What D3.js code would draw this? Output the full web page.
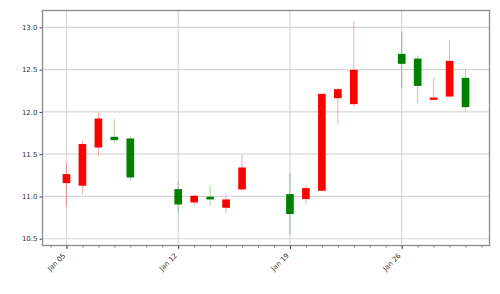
<!DOCTYPE html>
<html>
<head>
<meta charset="utf-8">
<script src="https://cdn.jsdelivr.net/npm/d3@7"></script>
<style>
html,body{margin:0;padding:0;background:#fff;}
svg{display:block;}
</style>
</head>
<body>
<svg id="chart" width="500" height="294"></svg>
<script>
// ---- data ----
const dates = ["2015-01-05","2015-01-06","2015-01-07","2015-01-08","2015-01-09",
  "2015-01-12","2015-01-13","2015-01-14","2015-01-15","2015-01-16",
  "2015-01-19","2015-01-20","2015-01-21","2015-01-22","2015-01-23",
  "2015-01-26","2015-01-27","2015-01-28","2015-01-29","2015-01-30"];
const opens  = [11.158,11.127,11.579,11.706,11.686, 11.087,10.929,10.996,10.866,11.083, 11.028,10.969,11.067,12.163,12.092, 12.687,12.631,12.143,12.182,12.403];
const highs  = [11.390,11.658,11.993,11.915,11.717, 11.177,11.020,11.135,11.000,11.493, 11.277,11.130,12.214,12.281,13.077, 12.950,12.667,12.400,12.852,12.498];
const lows   = [10.880,11.020,11.473,11.631,11.186, 10.811,10.890,10.890,10.799,11.080, 10.547,10.902,11.067,11.848,12.064, 12.281,12.104,12.135,12.182,12.005];
const closes = [11.265,11.620,11.922,11.667,11.225, 10.905,11.008,10.965,10.965,11.343, 10.792,11.099,12.214,12.270,12.498, 12.569,12.308,12.170,12.604,12.057];
const yTicks = [10.5, 11.0, 11.5, 12.0, 12.5, 13.0];
const xTickDates = ["2015-01-05","2015-01-12","2015-01-19","2015-01-26"];
const xDomain = ["2015-01-03T12:00:00Z","2015-01-31T12:00:00Z"];
const yDomain = [10.42, 13.2];

// ---- layout ----
const W = 500, H = 294;
const m = {left: 42.5, right: 10.5, top: 10.5, bottom: 48.5};
const svg = d3.select("#chart");
const parse = s => new Date(s.length === 10 ? s + "T00:00:00Z" : s);

const x = d3.scaleUtc().domain(xDomain.map(parse)).range([m.left, W - m.right]);
const y = d3.scaleLinear().domain(yDomain).range([H - m.bottom, m.top]);

const data = dates.map((d, i) => ({date: parse(d), o: opens[i], h: highs[i], l: lows[i], c: closes[i]}));
const dayPx = x(parse("2015-01-06")) - x(parse("2015-01-05"));
const bw = dayPx * 0.48;

// grid
const g = svg.append("g");
g.selectAll("line.hg").data(yTicks).join("line")
  .attr("x1", m.left).attr("x2", W - m.right)
  .attr("y1", d => y(d)).attr("y2", d => y(d))
  .attr("stroke", "#d6d6d6").attr("stroke-width", 1.2);
g.selectAll("line.vg").data(xTickDates.map(parse)).join("line")
  .attr("x1", d => x(d)).attr("x2", d => x(d))
  .attr("y1", m.top).attr("y2", H - m.bottom)
  .attr("stroke", "#d6d6d6").attr("stroke-width", 1.2);

// candles
const col = d => d.c >= d.o ? "#ff0000" : "#008000";
const cg = svg.append("g");
cg.selectAll("line.wick").data(data).join("line")
  .attr("x1", d => x(d.date)).attr("x2", d => x(d.date))
  .attr("y1", d => y(d.h)).attr("y2", d => y(d.l))
  .attr("stroke", col).attr("stroke-opacity", 0.35).attr("stroke-width", 1);
cg.selectAll("rect.body").data(data).join("rect")
  .attr("x", d => x(d.date) - bw / 2)
  .attr("width", bw)
  .attr("y", d => y(Math.max(d.o, d.c)))
  .attr("height", d => Math.max(1.5, y(Math.min(d.o, d.c)) - y(Math.max(d.o, d.c))))
  .attr("fill", col);

// axes
const font = "DejaVu Sans, sans-serif";
const yAxis = d3.axisLeft(y).tickValues(yTicks).tickFormat(d3.format(".1f")).tickSize(3).tickPadding(2);
const ya = svg.append("g").attr("transform", `translate(${m.left},0)`).call(yAxis);
ya.select(".domain").remove();
ya.selectAll("line").attr("stroke", "#444");
ya.selectAll("text").attr("font-family", font).attr("font-size", 7).attr("fill", "#333");

// minor ticks each day
const allDays = d3.utcDay.range(parse("2015-01-04"), parse("2015-02-01"));
const xMinor = d3.axisBottom(x).tickValues(allDays).tickSize(2).tickFormat("");
const xm = svg.append("g").attr("transform", `translate(0,${H - m.bottom})`).call(xMinor);
xm.select(".domain").remove();
xm.selectAll("line").attr("stroke", "#444").attr("stroke-width", 0.8);

const fmt = d3.utcFormat("%b %d");
const xAxis = d3.axisBottom(x).tickValues(xTickDates.map(parse)).tickFormat(fmt).tickSize(3.5).tickPadding(3);
const xa = svg.append("g").attr("transform", `translate(0,${H - m.bottom})`).call(xAxis);
xa.select(".domain").remove();
xa.selectAll("line").attr("stroke", "#444");
xa.selectAll("text")
  .attr("font-family", font).attr("font-size", 7).attr("fill", "#333")
  .attr("text-anchor", "end").attr("x", 0).attr("y", 0).attr("dy", 0)
  .attr("transform", "translate(-1,10.5) rotate(-45)");

// spines
svg.append("rect")
  .attr("x", m.left).attr("y", m.top)
  .attr("width", W - m.left - m.right).attr("height", H - m.top - m.bottom)
  .attr("fill", "none").attr("stroke", "#8a8a8a").attr("stroke-width", 1.3);
</script>
</body>
</html>
